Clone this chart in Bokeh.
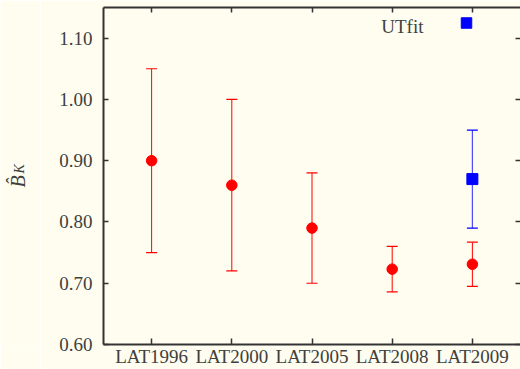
import math

from bokeh.embed import file_html
from bokeh.layouts import row
from bokeh.models import (ColumnDataSource, FixedTicker, Label, LinearAxis,
                          PrintfTickFormatter, Range1d)
from bokeh.plotting import figure
from bokeh.resources import INLINE

# B_K lattice determinations and the UTfit value
labels = ["LAT1996", "LAT2000", "LAT2005", "LAT2008", "LAT2009"]
lat_pos = [1, 2, 3, 4, 5]
lat_val = [0.90, 0.86, 0.79, 0.723, 0.731]
lat_lo = [0.75, 0.72, 0.70, 0.686, 0.695]
lat_hi = [1.05, 1.00, 0.88, 0.760, 0.767]

utfit_pos = [5]
utfit_val = [0.87]
utfit_lo = [0.79]
utfit_hi = [0.95]

y_ticks = [0.60, 0.70, 0.80, 0.90, 1.00, 1.10]

BG = "#fffdf0"
AXIS = "#333333"
TEXT = "#404040"
FONT = "Liberation Serif"
RED = "#ff0000"
BLUE = "#0000ff"

TITLE_W = 40

p = figure(
    width=520 - TITLE_W, height=369,
    x_range=Range1d(0.4, 5.6), y_range=Range1d(0.60, 1.15),
    output_backend="svg", toolbar_location=None,
    x_axis_location=None, y_axis_location=None,
    min_border_left=103 - TITLE_W, min_border_right=0,
    min_border_top=7, min_border_bottom=25,
    background_fill_color=BG, border_fill_color=BG,
)
p.outline_line_color = None
p.grid.visible = False

x_ticker = FixedTicker(ticks=lat_pos)
y_ticker = FixedTicker(ticks=y_ticks)


def style_axis(ax, tick_len, show_labels, line=True):
    ax.major_tick_in = tick_len
    ax.major_tick_out = 0
    ax.minor_tick_in = 0
    ax.minor_tick_out = 0
    ax.major_tick_line_color = AXIS
    ax.major_tick_line_width = 1.5
    ax.axis_line_color = AXIS if line else None
    ax.axis_line_width = 2
    ax.major_label_text_font = FONT
    ax.major_label_text_color = TEXT
    ax.major_label_text_font_size = "19px"
    if not show_labels:
        ax.major_label_text_color = None
        ax.major_label_text_font_size = "0px"
        ax.major_label_standoff = 0


bottom = LinearAxis(ticker=x_ticker,
                    major_label_overrides={i: s for i, s in zip(lat_pos, labels)})
style_axis(bottom, 6, True)
bottom.major_label_standoff = 1
p.add_layout(bottom, "below")

left = LinearAxis(ticker=y_ticker, formatter=PrintfTickFormatter(format="%.2f"))
style_axis(left, 5, True)
left.major_label_standoff = 11
p.add_layout(left, "left")

top = LinearAxis(ticker=x_ticker)
style_axis(top, 5, False)
p.add_layout(top, "above")

right = LinearAxis(ticker=y_ticker)
style_axis(right, 5, False, line=False)
p.add_layout(right, "right")

# lattice points with error bars
lat = ColumnDataSource(dict(x=lat_pos, y=lat_val, lo=lat_lo, hi=lat_hi))
p.segment(x0="x", y0="lo", x1="x", y1="hi", source=lat, line_color=RED, line_width=1)
p.scatter(x="x", y="lo", source=lat, marker="dash", size=11, line_color=RED, line_width=1.2)
p.scatter(x="x", y="hi", source=lat, marker="dash", size=11, line_color=RED, line_width=1.2)
p.scatter(x="x", y="y", source=lat, marker="circle", size=10.5,
          fill_color=RED, line_color=RED)

# UTfit point
ut = ColumnDataSource(dict(x=utfit_pos, y=utfit_val, lo=utfit_lo, hi=utfit_hi))
p.segment(x0="x", y0="lo", x1="x", y1="hi", source=ut, line_color=BLUE, line_width=1.2, line_alpha=0.7)
p.scatter(x="x", y="lo", source=ut, marker="dash", size=11, line_color=BLUE, line_width=1.2)
p.scatter(x="x", y="hi", source=ut, marker="dash", size=11, line_color=BLUE, line_width=1.2)
p.scatter(x="x", y="y", source=ut, marker="square", size=11,
          fill_color=BLUE, line_color=BLUE)

# key: label text followed by the sample marker, placed in frame pixels
p.extra_x_ranges["px"] = Range1d(0, 417)
p.extra_y_ranges["px"] = Range1d(0, 337)
key = ColumnDataSource(dict(x=[363], y=[321.5]))
p.scatter(x="x", y="y", source=key, x_range_name="px", y_range_name="px",
          marker="square", size=10.5, fill_color=BLUE, line_color=BLUE)
p.add_layout(Label(x=320, y=318, x_units="screen", y_units="screen", text="UTfit",
                   text_font=FONT, text_font_size="19px", text_color=TEXT,
                   text_align="right", text_baseline="alphabetic"))

# narrow strip on the left carrying the rotated y-axis title (B-hat, subscript K);
# its frame lines up with the main frame, so y is measured from the frame bottom
t = figure(
    width=TITLE_W, height=369, x_range=Range1d(0, 1), y_range=Range1d(0, 1),
    output_backend="svg", toolbar_location=None,
    x_axis_location=None, y_axis_location=None,
    min_border=0, background_fill_color=BG, border_fill_color=BG,
)
t.outline_line_color = None
t.grid.visible = False
t.add_layout(Label(x=17, y=157, x_units="screen", y_units="screen", text="B\u0302",
                   angle=math.pi / 2, text_font=FONT, text_font_style="italic",
                   text_font_size="20px", text_color=TEXT,
                   text_align="left", text_baseline="alphabetic"))
t.add_layout(Label(x=18.5, y=171, x_units="screen", y_units="screen", text="K",
                   angle=math.pi / 2, text_font=FONT, text_font_style="italic",
                   text_font_size="14px", text_color=TEXT,
                   text_align="left", text_baseline="alphabetic"))

layout = row(t, p, spacing=0)
open("out.html", "w").write(file_html(layout, INLINE))
